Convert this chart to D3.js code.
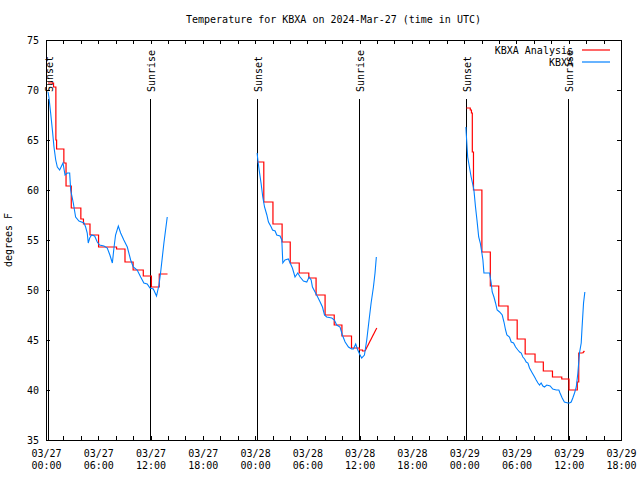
<!DOCTYPE html>
<html><head><meta charset="utf-8">
<script src="https://cdn.jsdelivr.net/npm/d3@7"></script>
<style>
body{margin:0;background:#fff}
svg{display:block}
text{font-family:"DejaVu Sans Mono",monospace;font-size:10px;fill:#000}
</style>
</head><body><svg width="640" height="480"></svg>
<script>
const title = "Temperature for KBXA on 2024-Mar-27 (time in UTC)";
const yLabel = "degrees F";
const yTicks = [35, 40, 45, 50, 55, 60, 65, 70, 75];
const xDomain = ["03-27 00:00", "03-29 18:00"];
const seriesNames = ["KBXA Analysis", "KBXA"];
const seriesColors = ["#ff0000", "#0080ff"];
const sunsets = ["03-27 00:14", "03-28 00:15", "03-29 00:15"];
const sunrises = ["03-27 11:57", "03-28 11:56", "03-29 11:55"];

// Analysis (stepped)
const analysis1 = [["03-27 00:14",70.7],["03-27 00:52",70.3],["03-27 01:08",65.0],["03-27 01:13",64.1],["03-27 02:03",62.7],
  ["03-27 02:18",60.4],["03-27 02:54",58.2],["03-27 04:00",57.1],["03-27 04:18",56.6],["03-27 05:03",55.5],
  ["03-27 06:02",54.3],["03-27 08:06",54.1],["03-27 09:04",52.8],["03-27 10:00",52.0],["03-27 11:10",51.4],
  ["03-27 12:06",50.3],["03-27 13:00",51.6],["03-27 13:57",51.6]];
const analysis2 = [["03-28 00:15",62.8],["03-28 01:00",58.8],["03-28 02:03",56.6],["03-28 03:06",54.8],["03-28 04:02",52.7],
  ["03-28 05:04",51.7],["03-28 06:10",51.2],["03-28 07:00",49.5],["03-28 08:02",47.5],["03-28 09:05",46.5],
  ["03-28 09:58",45.4],["03-28 11:04",44.2],["03-28 11:58",44.0],["03-28 12:20",43.9],["03-28 12:37",43.9]];
const analysis3 = [["03-29 00:15",68.2],["03-29 00:42",68.0],["03-29 00:50",67.7],["03-29 00:56",63.8],["03-29 01:04",60.0],
  ["03-29 02:02",53.8],["03-29 03:00",50.4],["03-29 03:58",48.4],["03-29 05:02",47.0],["03-29 06:05",45.1],
  ["03-29 07:00",43.6],["03-29 08:08",42.8],["03-29 09:05",41.9],["03-29 10:08",41.3],["03-29 11:12",41.1],
  ["03-29 12:02",40.0],["03-29 12:59",40.8],["03-29 13:09",43.7],["03-29 13:36",43.7]];
const analysisRamp2 = [["03-28 12:37",43.9],["03-28 13:58",46.2]];
const analysisRamp3 = [["03-29 13:36",43.7],["03-29 13:48",43.9]];

// Observations
const obs1 = [["03-27 00:14",69.8],["03-27 00:20",69.3],["03-27 00:32",67.7],["03-27 00:44",66.0],["03-27 00:55",64.3],
  ["03-27 01:07",63.0],["03-27 01:18",62.3],["03-27 01:34",62.0],["03-27 01:57",62.7],["03-27 02:11",61.5],
  ["03-27 02:27",61.7],["03-27 02:43",61.7],["03-27 02:50",60.0],["03-27 03:08",58.7],["03-27 03:24",57.3],
  ["03-27 03:47",56.9],["03-27 04:22",56.7],["03-27 04:33",56.3],["03-27 04:44",55.7],["03-27 04:51",54.7],
  ["03-27 05:01",55.2],["03-27 05:14",55.5],["03-27 05:35",55.4],["03-27 05:53",54.8],["03-27 06:09",54.5],
  ["03-27 06:39",54.4],["03-27 07:02",54.2],["03-27 07:20",53.5],["03-27 07:37",52.7],["03-27 07:48",54.2],
  ["03-27 07:59",55.5],["03-27 08:18",56.4],["03-27 08:34",55.7],["03-27 08:56",55.0],["03-27 09:20",54.3],
  ["03-27 09:43",53.0],["03-27 10:01",52.3],["03-27 10:28",52.0],["03-27 10:52",51.3],["03-27 11:14",50.7],
  ["03-27 11:37",50.6],["03-27 11:56",50.2],["03-27 12:19",50.1],["03-27 12:41",49.4],["03-27 12:58",50.5],
  ["03-27 13:09",51.7],["03-27 13:32",54.7],["03-27 13:55",57.3]];
const obs2 = [["03-28 00:14",63.7],["03-28 00:19",63.0],["03-28 00:28",62.0],["03-28 00:41",60.7],["03-28 00:53",59.3],
  ["03-28 01:05",58.3],["03-28 01:21",57.5],["03-28 01:32",56.8],["03-28 01:51",56.3],["03-28 02:00",56.0],
  ["03-28 02:18",55.9],["03-28 02:29",55.5],["03-28 02:52",55.4],["03-28 03:04",55.0],["03-28 03:11",52.7],
  ["03-28 03:26",53.0],["03-28 03:49",53.1],["03-28 04:17",52.2],["03-28 04:35",51.3],["03-28 04:54",51.7],
  ["03-28 05:10",51.3],["03-28 05:33",50.9],["03-28 05:56",50.8],["03-28 06:12",51.3],["03-28 06:26",51.0],
  ["03-28 06:35",50.3],["03-28 06:53",49.8],["03-28 07:11",49.3],["03-28 07:28",48.8],["03-28 07:44",48.3],
  ["03-28 07:58",47.5],["03-28 08:13",47.3],["03-28 08:48",47.2],["03-28 09:06",47.0],["03-28 09:22",46.5],
  ["03-28 09:45",46.3],["03-28 10:01",45.5],["03-28 10:20",44.8],["03-28 10:43",44.3],["03-28 11:05",44.1],
  ["03-28 11:17",44.1],["03-28 11:33",44.6],["03-28 11:47",44.0],["03-28 12:03",43.5],["03-28 12:14",43.2],
  ["03-28 12:33",43.5],["03-28 12:49",45.0],["03-28 13:05",47.0],["03-28 13:19",48.7],["03-28 13:35",50.3],
  ["03-28 13:46",51.7],["03-28 13:55",53.3]];
const obs3 = [["03-29 00:12",66.3],["03-29 00:14",65.7],["03-29 00:24",63.3],["03-29 00:36",62.3],["03-29 00:48",61.3],
  ["03-29 01:00",60.5],["03-29 01:07",60.0],["03-29 01:18",58.3],["03-29 01:28",57.0],["03-29 01:40",55.3],
  ["03-29 01:51",54.7],["03-29 02:02",53.7],["03-29 02:09",53.0],["03-29 02:16",51.7],["03-29 02:32",51.7],
  ["03-29 02:55",51.7],["03-29 03:06",50.7],["03-29 03:13",49.8],["03-29 03:25",49.3],["03-29 03:36",48.7],
  ["03-29 03:47",48.0],["03-29 04:04",47.8],["03-29 04:22",47.5],["03-29 04:34",46.8],["03-29 04:45",46.0],
  ["03-29 04:54",45.5],["03-29 05:12",45.3],["03-29 05:24",44.8],["03-29 05:40",44.7],["03-29 05:54",44.3],
  ["03-29 06:10",44.0],["03-29 06:22",43.8],["03-29 06:33",43.7],["03-29 06:44",43.3],["03-29 06:56",43.1],
  ["03-29 07:07",42.8],["03-29 07:19",42.7],["03-29 07:30",42.2],["03-29 07:49",41.7],["03-29 08:05",41.3],
  ["03-29 08:16",41.0],["03-29 08:28",40.7],["03-29 08:39",40.5],["03-29 08:50",40.7],["03-29 09:02",40.4],
  ["03-29 09:13",40.3],["03-29 09:29",40.5],["03-29 09:52",40.4],["03-29 10:10",40.1],["03-29 10:34",40.0],
  ["03-29 10:52",40.0],["03-29 11:00",39.7],["03-29 11:15",39.2],["03-29 11:30",38.8],["03-29 11:54",38.7],
  ["03-29 12:05",38.7],["03-29 12:17",38.8],["03-29 12:28",39.2],["03-29 12:40",39.7],["03-29 12:52",40.3],
  ["03-29 13:03",41.7],["03-29 13:14",43.7],["03-29 13:26",44.7],["03-29 13:32",46.3],["03-29 13:42",48.7],
  ["03-29 13:51",49.8]];

const parse = s => d3.utcParse("%Y-%m-%d %H:%M")("2024-" + s);
const svg = d3.select("svg");
const L = 46, R = 621, T = 40, B = 440;
const x = d3.scaleUtc().domain(xDomain.map(parse)).range([L, R]);
const y = d3.scaleLinear().domain([yTicks[0], yTicks[yTicks.length-1]]).range([B, T]);

// title
svg.append("text").attr("x", (L+R)/2).attr("y", 23).attr("text-anchor","middle").text(title);
svg.append("text").attr("transform","translate(12,240) rotate(-90)").attr("text-anchor","middle").text(yLabel);

const twoHour = d3.utcHour.every(2).range(x.domain()[0], d3.utcMinute.offset(x.domain()[1], 1));
const sixHour = d3.utcHour.every(6).range(x.domain()[0], d3.utcMinute.offset(x.domain()[1], 1));

function clean(g){ g.select(".domain").remove(); g.selectAll("line").attr("stroke","#000").attr("shape-rendering","crispEdges"); }

svg.append("g").attr("transform",`translate(0,${B})`)
  .call(d3.axisBottom(x).tickValues(twoHour).tickSize(-4).tickFormat("")).call(clean);
svg.append("g").attr("transform",`translate(0,${T})`)
  .call(d3.axisTop(x).tickValues(twoHour).tickSize(-4).tickFormat("")).call(clean);
const xl = svg.append("g").attr("transform",`translate(0,${B})`)
  .call(d3.axisBottom(x).tickValues(sixHour).tickSize(0).tickFormat(d3.utcFormat("%m/%d|%H:%M")));
xl.select(".domain").remove();
xl.selectAll("text").attr("font-family",null).attr("font-size",null).each(function(d){
  const parts = d3.utcFormat("%m/%d|%H:%M")(d).split("|");
  const t = d3.select(this).attr("dy",null).attr("y",null).text("");
  t.append("tspan").attr("x",0).attr("y",17).text(parts[0]);
  t.append("tspan").attr("x",0).attr("y",29).text(parts[1]);
});
const yl = svg.append("g").attr("transform",`translate(${L},0)`)
  .call(d3.axisLeft(y).tickValues(yTicks).tickSize(-4).tickPadding(7)).call(clean);
yl.selectAll("text").attr("font-family",null).attr("font-size",null);
svg.append("g").attr("transform",`translate(${R},0)`)
  .call(d3.axisRight(y).tickValues(yTicks).tickSize(-4).tickFormat("")).call(clean);

// frame
svg.append("rect").attr("x",L+0.5).attr("y",T+0.5).attr("width",R-L).attr("height",B-T)
  .attr("fill","none").attr("stroke","#000").attr("shape-rendering","crispEdges");

// sunrise / sunset
const events = sunsets.map(t=>({t, name:"Sunset"})).concat(sunrises.map(t=>({t, name:"Sunrise"})));
events.forEach(e=>{
  const xx = Math.round(x(parse(e.t))) + 0.5;
  svg.append("line").attr("x1",xx).attr("x2",xx).attr("y1",99).attr("y2",B)
    .attr("stroke","#000").attr("stroke-width",1).attr("shape-rendering","crispEdges");
  svg.append("text").attr("transform",`translate(${xx+4},92) rotate(-90)`).attr("text-anchor","start").text(e.name);
});

// data
const lineStep = d3.line().x(d=>x(parse(d[0]))).y(d=>y(d[1])).curve(d3.curveStepAfter);
const lineLin = d3.line().x(d=>x(parse(d[0]))).y(d=>y(d[1]));
[analysis1, analysis2, analysis3].forEach(a=>{
  svg.append("path").attr("d", lineStep(a)).attr("fill","none").attr("stroke",seriesColors[0]).attr("stroke-width",1.2);
});
[analysisRamp2, analysisRamp3].forEach(a=>{
  svg.append("path").attr("d", lineLin(a)).attr("fill","none").attr("stroke",seriesColors[0]).attr("stroke-width",1.2);
});
[obs1, obs2, obs3].forEach(a=>{
  svg.append("path").attr("d", lineLin(a)).attr("fill","none").attr("stroke",seriesColors[1]).attr("stroke-width",1.1);
});

// legend
seriesNames.forEach((n,i)=>{
  const yy = 50 + i*12;
  svg.append("text").attr("x",573).attr("y",yy).attr("dy","0.35em").attr("text-anchor","end").text(n);
  svg.append("line").attr("x1",582).attr("x2",610).attr("y1",yy).attr("y2",yy)
    .attr("stroke",seriesColors[i]).attr("stroke-width",1.2);
});
</script>
</body></html>
